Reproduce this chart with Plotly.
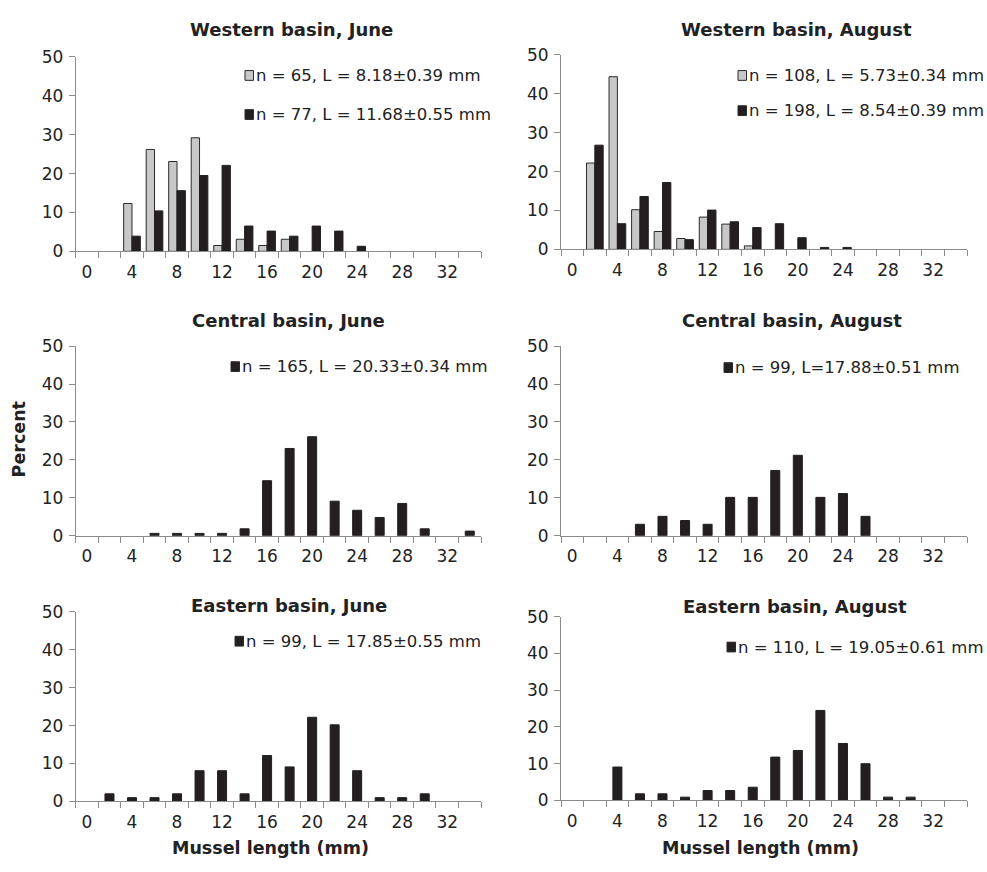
import plotly.graph_objects as go

# Shell-length classes (mm), 2-mm bins
length_mm = [0, 2, 4, 6, 8, 10, 12, 14, 16, 18, 20, 22, 24, 26, 28, 30, 32, 34]
x_tick_vals = [0, 4, 8, 12, 16, 20, 24, 28, 32]
x_tick_text = ["0", "4", "8", "12", "16", "20", "24", "28", "32"]
y_tick_vals = [0, 10, 20, 30, 40, 50]

# Percent of mussels in each length class
west_jun_a = [0, 0, 12.3, 26.2, 23.1, 29.2, 1.5, 3.1, 1.5, 3.1, 0, 0, 0, 0, 0, 0, 0, 0]
west_jun_b = [0, 0, 3.9, 10.4, 15.6, 19.5, 22.1, 6.5, 5.2, 3.9, 6.5, 5.2, 1.3, 0, 0, 0, 0, 0]
west_aug_a = [0, 22.2, 44.4, 10.2, 4.6, 2.8, 8.3, 6.5, 0.9, 0, 0, 0, 0, 0, 0, 0, 0, 0]
west_aug_b = [0, 26.8, 6.6, 13.6, 17.2, 2.5, 10.1, 7.1, 5.6, 6.6, 3.0, 0.5, 0.5, 0, 0, 0, 0, 0]
central_jun = [0, 0, 0, 0.6, 0.6, 0.6, 0.6, 1.8, 14.5, 23.0, 26.1, 9.1, 6.7, 4.8, 8.5, 1.8, 0, 1.2]
central_aug = [0, 0, 0, 3.0, 5.1, 4.0, 3.0, 10.1, 10.1, 17.2, 21.2, 10.1, 11.1, 5.1, 0, 0, 0, 0]
east_jun = [0, 2.0, 1.0, 1.0, 2.0, 8.1, 8.1, 2.0, 12.1, 9.1, 22.2, 20.2, 8.1, 1.0, 1.0, 2.0, 0, 0]
east_aug = [0, 0, 9.1, 1.8, 1.8, 0.9, 2.7, 2.7, 3.6, 11.8, 13.6, 24.5, 15.5, 10.0, 0.9, 0.9, 0, 0]

titles = ["Western basin, June", "Western basin, August",
          "Central basin, June", "Central basin, August",
          "Eastern basin, June", "Eastern basin, August"]
legend_a = ["n = 65, L = 8.18\u00b10.39 mm", "n = 108, L = 5.73\u00b10.34 mm"]
legend_b = ["n = 77, L = 11.68\u00b10.55 mm", "n = 198, L = 8.54\u00b10.39 mm",
            "n = 165, L = 20.33\u00b10.34 mm", "n = 99, L=17.88\u00b10.51 mm",
            "n = 99, L = 17.85\u00b10.55 mm", "n = 110, L = 19.05\u00b10.61 mm"]

W, H = 987, 872
FONT = "DejaVu Sans, Verdana, sans-serif"
TEXT = "#222222"
BLACK = "#231f20"
GREY = "#c8c8c8"
AXIS = "#8c8c8c"


def px(x):
    return x / W


def py(y):
    return 1 - y / H


# plot-area boxes in pixels: (left, right, top, bottom), row by row
boxes = [
    (75.7, 481.0, 48.0, 247.0), (561.0, 967.0, 46.0, 245.0),
    (75.7, 481.0, 344.0, 538.0), (561.0, 967.0, 344.0, 538.0),
    (75.7, 481.0, 616.0, 810.0), (561.0, 967.0, 621.0, 809.0),
]

fig = go.Figure()

panels = [
    (west_jun_a, west_jun_b),
    (west_aug_a, west_aug_b),
    (None, central_jun),
    (None, central_aug),
    (None, east_jun),
    (None, east_aug),
]


def nz(vals):
    return [v if v else None for v in vals]


for i, (sa, sb) in enumerate(panels):
    ax = "" if i == 0 else str(i + 1)
    xa, ya = "x" + ax, "y" + ax
    if sa is not None:
        fig.add_trace(go.Bar(x=length_mm, y=nz(sa), xaxis=xa, yaxis=ya,
                             width=0.74, offset=-0.74,
                             marker=dict(color=GREY, line=dict(color="#2a2a2a", width=1)),
                             showlegend=False))
        fig.add_trace(go.Bar(x=length_mm, y=nz(sb), xaxis=xa, yaxis=ya,
                             width=0.74, offset=0.0,
                             marker=dict(color=BLACK, line=dict(color=BLACK, width=1)),
                             showlegend=False))
    else:
        fig.add_trace(go.Bar(x=length_mm, y=nz(sb), xaxis=xa, yaxis=ya,
                             width=0.8, offset=-0.4,
                             marker=dict(color=BLACK, line=dict(color=BLACK, width=1)),
                             showlegend=False))

    x0, x1, y0, y1 = boxes[i]
    fig.layout["xaxis" + ax] = dict(
        domain=[px(x0), px(x1)], anchor=ya, range=[-1, 35],
        tickmode="array", tickvals=x_tick_vals, ticktext=x_tick_text,
        ticks="", showgrid=False, zeroline=False,
        showline=True, linecolor=AXIS, linewidth=1,
        tickfont=dict(family=FONT, size=17, color=TEXT),
        ticklabelstandoff=5,
        minor=dict(tickmode="array", tickvals=[v - 1 for v in length_mm] + [35],
                   ticks="outside", ticklen=6, tickcolor=AXIS, tickwidth=1,
                   showgrid=False),
        fixedrange=True,
    )
    fig.layout["yaxis" + ax] = dict(
        domain=[py(y1), py(y0)], anchor=xa, range=[0, 50],
        tickmode="array", tickvals=y_tick_vals,
        ticks="outside", ticklen=6, tickcolor=AXIS, tickwidth=1,
        showgrid=False, zeroline=False,
        showline=True, linecolor=AXIS, linewidth=1,
        tickfont=dict(family=FONT, size=17, color=TEXT),
        ticklabelstandoff=2,
        fixedrange=True,
    )

annotations = []
shapes = []

# panel titles
title_pos = [(291, 20), (796, 20), (288, 318), (792, 318), (289, 609), (795, 611)]
for t, (tx, ty) in zip(titles, title_pos):
    annotations.append(dict(text="<b>" + t + "</b>", x=px(tx), y=py(ty),
                            xref="paper", yref="paper", showarrow=False,
                            xanchor="center", yanchor="middle",
                            font=dict(family=FONT, size=18, color=TEXT)))

# in-panel legends: (key left edge, row centre y, key colour, label)
legend_rows = [
    (245, 67, GREY, legend_a[0]), (245, 107, BLACK, legend_b[0]),
    (738, 67, GREY, legend_a[1]), (738, 103, BLACK, legend_b[1]),
    (231, 365, BLACK, legend_b[2]), (724, 366, BLACK, legend_b[3]),
    (235, 646, BLACK, legend_b[4]), (727, 652, BLACK, legend_b[5]),
]
for sx, sy, col, txt in legend_rows:
    shapes.append(dict(type="rect", xref="paper", yref="paper",
                       x0=px(sx), x1=px(sx + 8.5), y0=py(sy + 5), y1=py(sy - 5),
                       fillcolor=col, line=dict(color="#2a2a2a", width=1)))
    annotations.append(dict(text=txt, x=px(sx + 9), y=py(sy), xref="paper", yref="paper",
                            showarrow=False, xanchor="left", yanchor="middle",
                            font=dict(family=FONT, size=16.5, color=TEXT)))

# axis titles
annotations.append(dict(text="<b>Percent</b>", x=px(18.5), y=py(440), xref="paper", yref="paper",
                        showarrow=False, textangle=-90, xanchor="center", yanchor="middle",
                        font=dict(family=FONT, size=17.5, color=TEXT)))
for cx in (270, 760):
    annotations.append(dict(text="<b>Mussel length (mm)</b>", x=px(cx), y=py(858),
                            xref="paper", yref="paper", showarrow=False,
                            xanchor="center", yanchor="middle",
                            font=dict(family=FONT, size=17.5, color=TEXT)))

fig.update_layout(
    width=W, height=H,
    margin=dict(l=0, r=0, t=0, b=0),
    paper_bgcolor="white", plot_bgcolor="white",
    barmode="overlay",
    showlegend=False,
    annotations=annotations,
    shapes=shapes,
    font=dict(family=FONT),
)

fig.write_html("out.html")
